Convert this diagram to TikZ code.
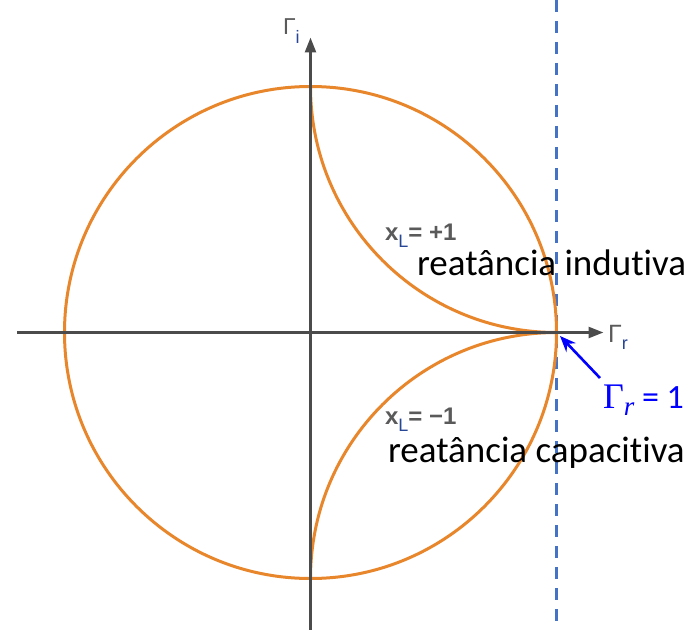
\documentclass[tikz,border=0pt]{standalone}
\usepackage{fontspec}
\setmainfont{Carlito}[Ligatures={NoCommon,NoContextual,NoRare}]
\newfontfamily\arialf{Liberation Sans}
\newfontfamily\serf{Liberation Serif}
\usetikzlibrary{arrows.meta}
\definecolor{orangeC}{RGB}{232,134,44}
\definecolor{axisC}{RGB}{75,75,75}
\definecolor{dashC}{RGB}{68,114,196}
\definecolor{subC}{RGB}{40,70,150}
\definecolor{lblC}{RGB}{90,90,90}
\tikzset{
  axisline/.style={draw=axisC, line width=2.6pt, -{Triangle[length=15pt,width=11pt]}},
  orangeline/.style={draw=orangeC, line width=3pt},
  dashline/.style={draw=dashC, line width=2.5pt, dash pattern=on 12pt off 9pt},
  bluearrow/.style={draw=blue, line width=2.6pt, -{Stealth[length=16pt,width=13pt]}},
  lbl/.style={anchor=base west, inner sep=0pt, outer sep=0pt},
}
\begin{document}
\begin{tikzpicture}[x=1pt,y=1pt]
\useasboundingbox (-310.5,-296.5) rectangle (389.5,332.5);
\coordinate (O) at (0,0);
\coordinate (xLft) at (-293,0);
\coordinate (xRgt) at (293,0);
\coordinate (yBot) at (0,-297);
\coordinate (yTop) at (0,295);
\coordinate (dTop) at (246,332.5);
\coordinate (dBot) at (246,-296.5);
% dashed line
\draw[dashline] (dTop) -- (dBot);
% circle and reactance arcs
\draw[orangeline] (O) circle (246pt);
\draw[orangeline] (0,246) arc[start angle=180, end angle=270, radius=246pt];
\draw[orangeline] (0,-246) arc[start angle=180, end angle=90, radius=246pt];
% axes
\draw[axisline] (xLft) -- (xRgt);
\draw[axisline] (yBot) -- (yTop);
% axis labels
\node[lbl, text=lblC] (gi) at (-27.5,297.5) {\arialf\fontsize{23}{26}\selectfont Γ\raisebox{-0.35em}{\fontsize{18}{20}\selectfont\color{subC}i}};
\node[lbl, text=lblC] (gr) at (297.5,-9.5) {\arialf\fontsize{25}{28}\selectfont Γ\raisebox{-0.3em}{\fontsize{18}{20}\selectfont\color{subC}r}};
% reactance labels
\node[lbl, text=lblC] (xp) at (74.5,92.5) {\arialf\fontsize{24}{28}\selectfont\bfseries x\raisebox{-0.33em}{\fontsize{18}{20}\selectfont\mdseries\color{subC}L}= +1};
\node[lbl] (ri) at (106.5,57.5) {\fontsize{37}{42}\selectfont reatância indutiva};
\node[lbl, text=lblC] (xm) at (74.5,-91.5) {\arialf\fontsize{24}{28}\selectfont\bfseries x\raisebox{-0.33em}{\fontsize{18}{20}\selectfont\mdseries\color{subC}L}= −1};
\node[lbl] (rc) at (77.5,-129.5) {\fontsize{37}{42}\selectfont reatância capacitiva};
% Gamma_r = 1
\node[lbl, text=blue] (g1) at (292.5,-75.5) {\fontsize{34}{40}\selectfont{\serf\fontsize{36}{40}\selectfont Γ}\raisebox{-0.22em}{\serf\itshape\fontsize{27}{30}\selectfont r} = 1};
\coordinate (arTail) at (289.5,-45.5);
\coordinate (arTip) at (249.5,-3.5);
\draw[bluearrow] (arTail) -- (arTip);
\end{tikzpicture}
\end{document}
